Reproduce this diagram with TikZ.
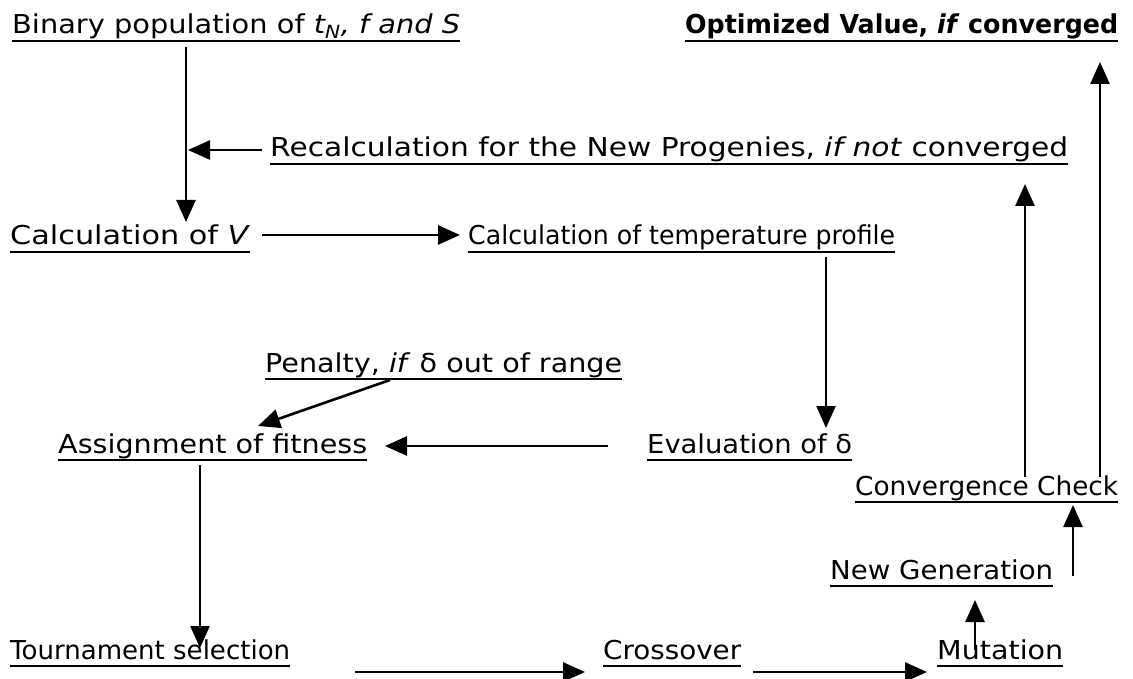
\documentclass[tikz,border=0pt]{standalone}
\usepackage{fontspec}
\setmainfont{DejaVu Sans}
\usepackage{graphicx}
\usetikzlibrary{arrows.meta,calc}
\newsavebox\fitbox
\newcommand\fitto[2]{\sbox\fitbox{#2}\pgfmathsetmacro\fitratio{#1/\the\wd\fitbox}\scalebox{\fitratio}[1]{\usebox\fitbox}}
\begin{document}
\begin{tikzpicture}[x=1pt,y=-1pt,
  lbl/.style={anchor=base west,inner sep=0pt,font=\fontsize{26}{30}\selectfont},
  ul/.style={line width=2.8pt},
  arr/.style={line width=2.6pt,-{Triangle[length=22pt,width=19pt]}}]
\useasboundingbox[fill=white] (0,0) rectangle (1133,679);
% nodes
\node[lbl] (bin) at (12,34) {\fitto{448}{Binary population of \textit{t\textsubscript{N}, f and S}}};
\node[lbl] (opt) at (685,34) {\fitto{433}{\textbf{Optimized Value, \textit{if} converged}}};
\node[lbl] (rec) at (270,157) {\fitto{798}{Recalculation for the New Progenies, \textit{if not} converged}};
\node[lbl] (calcv) at (10,245) {\fitto{240}{Calculation of \textit{V}}};
\node[lbl] (temp) at (468,245) {\fitto{427}{Calculation of temperature profile}};
\node[lbl] (pen) at (265,372) {\fitto{357}{Penalty, \textit{if} δ out of range}};
\node[lbl] (asg) at (58,453) {\fitto{309}{Assignment of fitness}};
\node[lbl] (eval) at (647,453) {\fitto{205}{Evaluation of δ}};
\node[lbl] (conv) at (855,495) {\fitto{263}{Convergence Check}};
\node[lbl] (ng) at (830,579) {\fitto{223}{New Generation}};
\node[lbl] (tour) at (10,659) {\fitto{280}{Tournament selection}};
\node[lbl] (cross) at (603,659) {\fitto{138}{Crossover}};
\node[lbl] (mut) at (937,659) {\fitto{126}{Mutation}};
% underlines
\foreach \n in {bin,opt,rec,calcv,temp,pen,asg,eval,conv,ng,tour,cross,mut}
  \draw[ul] ([yshift=-7pt]\n.base west) -- ([yshift=-7pt]\n.base east);
% coordinates
\coordinate (binout) at (186,47);
\coordinate (calcvin) at (186,222);
\coordinate (recout) at (262,150);
\coordinate (recin) at (188,150);
\coordinate (calcvout) at (262,235);
\coordinate (tempin) at (460,235);
\coordinate (tempout) at (826,257);
\coordinate (evalin) at (826,428);
\coordinate (evalout) at (608,446);
\coordinate (asgin) at (385,446);
\coordinate (penout) at (390,380);
\coordinate (asgin2) at (258,426);
\coordinate (asgout) at (200,465);
\coordinate (tourin) at (200,648);
\coordinate (tourout) at (355,672);
\coordinate (crossin) at (585,672);
\coordinate (crossout) at (753,672);
\coordinate (mutin) at (927,672);
\coordinate (mutout) at (975,650);
\coordinate (ngin) at (975,600);
\coordinate (ngout) at (1073,576);
\coordinate (convin) at (1073,505);
\coordinate (convout1) at (1025,477);
\coordinate (recin2) at (1025,184);
\coordinate (convout2) at (1100,477);
\coordinate (optin) at (1100,62);
% connectors
\draw[arr] (binout) -- (calcvin);
\draw[arr] (recout) -- (recin);
\draw[arr] (calcvout) -- (tempin);
\draw[arr] (tempout) -- (evalin);
\draw[arr] (evalout) -- (asgin);
\draw[arr] (penout) -- (asgin2);
\draw[arr] (asgout) -- (tourin);
\draw[arr] (tourout) -- (crossin);
\draw[arr] (crossout) -- (mutin);
\draw[arr] (mutout) -- (ngin);
\draw[arr] (ngout) -- (convin);
\draw[arr] (convout1) -- (recin2);
\draw[arr] (convout2) -- (optin);
\end{tikzpicture}
\end{document}
